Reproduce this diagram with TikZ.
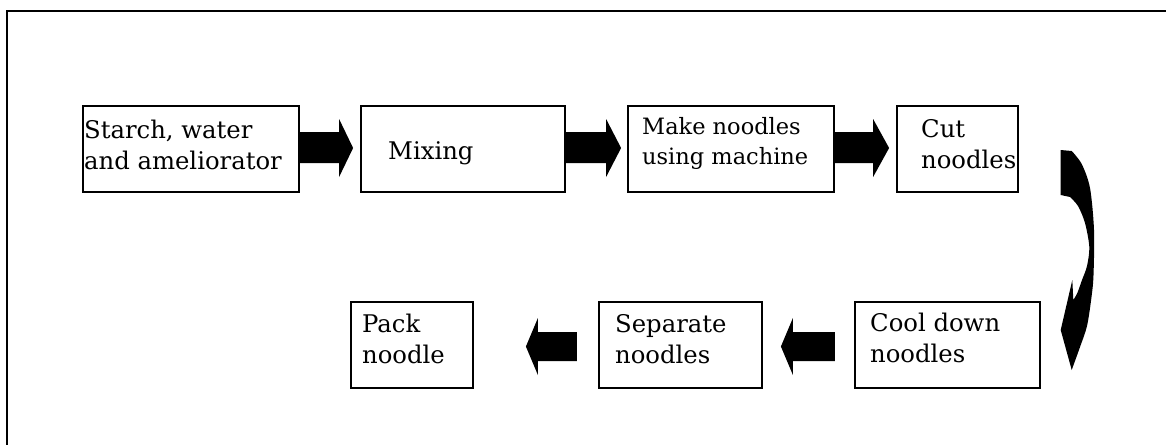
\documentclass[tikz,border=0pt]{standalone}
\usepackage{fontspec}
\setmainfont{DejaVu Serif}
\tikzset{
  box/.style={draw, line width=2.2pt, inner sep=0pt, minimum height=86pt},
  txt/.style={anchor=base west, inner sep=0pt, font=\fontsize{24.3pt}{30pt}\selectfont},
  txts/.style={anchor=base west, inner sep=0pt, font=\fontsize{22.5pt}{28pt}\selectfont},
  blk/.style={fill=black},
  frame/.style={draw, line width=2.2pt}
}
\newcommand\rblock[3]{\fill[blk] (#1.east) ++(0,-17) -- ++(#2,0) -- ++(0,-13) -- ++(#3,29) -- ++(-#3,29) -- ++(0,-14) -- ++(-#2,0) -- cycle;}
\newcommand\lblock[4]{\fill[blk] (#1.west) ++(-#2,-13) -- ++(-#3,0) -- ++(0,-14) -- ++(-#4,28.5) -- ++(#4,28.5) -- ++(0,-14) -- ++(#3,0) -- cycle;}
\begin{document}
\begin{tikzpicture}[x=1pt,y=-1pt]
\useasboundingbox (0,0) rectangle (1166,444);
\draw[frame] (7,445) -- (7,11) -- (1167,11);
% top row boxes
\node[box, minimum width=216pt] (b1) at (191,149) {};
\node[box, minimum width=204pt] (b2) at (463,149) {};
\node[box, minimum width=206pt] (b3) at (731,149) {};
\node[box, minimum width=121pt] (b4) at (957.5,149) {};
% bottom row boxes
\node[box, minimum width=122pt] (p) at (412,345) {};
\node[box, minimum width=163pt] (s) at (680.5,345) {};
\node[box, minimum width=185pt] (c) at (947.5,345) {};
% texts
\node[txt] (t1a) at (84,138) {Starch, water};
\node[txt] (t1b) at (84,169) {and ameliorator};
\node[txt] (t2) at (388,159) {Mixing};
\node[txts] (t3a) at (642,134) {Make noodles};
\node[txts] (t3b) at (642,164) {using machine};
\node[txt] (t4a) at (921,137) {Cut};
\node[txt] (t4b) at (921,168) {noodles};
\node[txt] (tpa) at (362,332) {Pack};
\node[txt] (tpb) at (362,363) {noodle};
\node[txt] (tsa) at (615,332) {Separate};
\node[txt] (tsb) at (615,363) {noodles};
\node[txt] (tca) at (870,331) {Cool down};
\node[txt] (tcb) at (870,362) {noodles};
% block arrows
\rblock{b1}{39}{14}
\rblock{b2}{40}{15}
\rblock{b3}{38}{16}
\lblock{s}{21}{39}{12}
\lblock{c}{19}{42}{12}
% curved arrow from b4 down to c
\fill[blk] (1060.7,150) -- (1071.7,151)
  -- plot[smooth] coordinates {(1071.7,151) (1081.7,164) (1090,188) (1094,230) (1093.5,275) (1091.5,297) (1087,326) (1080,347) (1071.7,370)}
  -- (1060.7,330) -- (1072.3,280) -- (1073.3,300)
  -- plot[smooth] coordinates {(1073.3,300) (1077.3,293) (1082,280) (1087,266) (1089.3,247) (1085,223) (1078,206) (1070,197)}
  -- (1060.7,195) -- cycle;
\end{tikzpicture}
\end{document}
